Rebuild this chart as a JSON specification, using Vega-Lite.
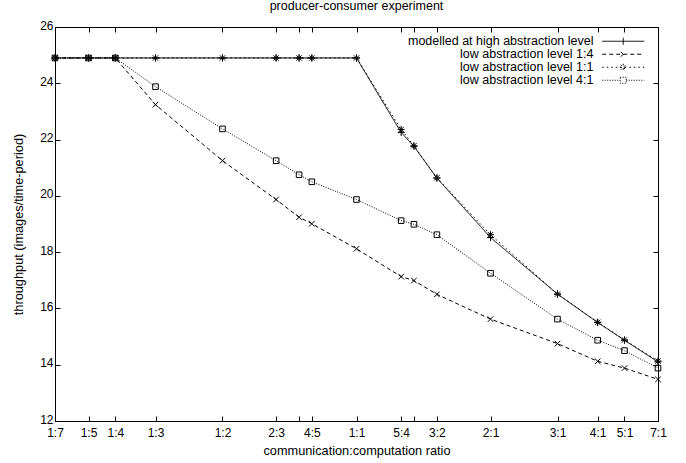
{
  "$schema": "https://vega.github.io/schema/vega-lite/v6.json",
  "width": 603,
  "height": 394,
  "autosize": "none",
  "padding": {"left": 55, "top": 27, "right": 28, "bottom": 42},
  "background": "white",
  "title": {"text": "producer-consumer experiment", "font": "Liberation Sans", "fontSize": 12.5, "fontWeight": "normal", "color": "black", "offset": 7, "anchor": "middle"},
  "config": {
    "view": {"stroke": "black", "strokeWidth": 1},
    "axis": {"domainColor": "black", "tickColor": "black", "labelColor": "black", "titleColor": "black", "labelFont": "Liberation Sans", "titleFont": "Liberation Sans", "labelFontSize": 12, "titleFontSize": 12.75, "titleFontWeight": "normal", "grid": false, "tickSize": -5, "domainWidth": 1, "tickWidth": 1},
    "legend": {"labelFont": "Liberation Sans", "labelFontSize": 12.5, "labelColor": "black", "padding": 0}
  },
  "data": {"values": [
    {"s": "modelled at high abstraction level", "f": 0.125, "y": 24.9},
    {"s": "modelled at high abstraction level", "f": 0.16666667, "y": 24.9},
    {"s": "modelled at high abstraction level", "f": 0.2, "y": 24.9},
    {"s": "modelled at high abstraction level", "f": 0.25, "y": 24.9},
    {"s": "modelled at high abstraction level", "f": 0.33333333, "y": 24.9},
    {"s": "modelled at high abstraction level", "f": 0.4, "y": 24.9},
    {"s": "modelled at high abstraction level", "f": 0.42857143, "y": 24.9},
    {"s": "modelled at high abstraction level", "f": 0.44444444, "y": 24.9},
    {"s": "modelled at high abstraction level", "f": 0.5, "y": 24.9},
    {"s": "modelled at high abstraction level", "f": 0.55555556, "y": 22.25},
    {"s": "modelled at high abstraction level", "f": 0.57142857, "y": 21.76},
    {"s": "modelled at high abstraction level", "f": 0.6, "y": 20.63},
    {"s": "modelled at high abstraction level", "f": 0.66666667, "y": 18.52},
    {"s": "modelled at high abstraction level", "f": 0.75, "y": 16.51},
    {"s": "modelled at high abstraction level", "f": 0.8, "y": 15.5},
    {"s": "modelled at high abstraction level", "f": 0.83333333, "y": 14.87},
    {"s": "modelled at high abstraction level", "f": 0.875, "y": 14.1},
    {"s": "low abstraction level 1:4", "f": 0.125, "y": 24.9},
    {"s": "low abstraction level 1:4", "f": 0.16666667, "y": 24.9},
    {"s": "low abstraction level 1:4", "f": 0.2, "y": 24.9},
    {"s": "low abstraction level 1:4", "f": 0.25, "y": 23.24},
    {"s": "low abstraction level 1:4", "f": 0.33333333, "y": 21.25},
    {"s": "low abstraction level 1:4", "f": 0.4, "y": 19.87},
    {"s": "low abstraction level 1:4", "f": 0.42857143, "y": 19.24},
    {"s": "low abstraction level 1:4", "f": 0.44444444, "y": 19.01},
    {"s": "low abstraction level 1:4", "f": 0.5, "y": 18.12},
    {"s": "low abstraction level 1:4", "f": 0.55555556, "y": 17.13},
    {"s": "low abstraction level 1:4", "f": 0.57142857, "y": 16.99},
    {"s": "low abstraction level 1:4", "f": 0.6, "y": 16.5},
    {"s": "low abstraction level 1:4", "f": 0.66666667, "y": 15.62},
    {"s": "low abstraction level 1:4", "f": 0.75, "y": 14.75},
    {"s": "low abstraction level 1:4", "f": 0.8, "y": 14.12},
    {"s": "low abstraction level 1:4", "f": 0.83333333, "y": 13.88},
    {"s": "low abstraction level 1:4", "f": 0.875, "y": 13.48},
    {"s": "low abstraction level 1:1", "f": 0.125, "y": 24.9},
    {"s": "low abstraction level 1:1", "f": 0.16666667, "y": 24.9},
    {"s": "low abstraction level 1:1", "f": 0.2, "y": 24.9},
    {"s": "low abstraction level 1:1", "f": 0.25, "y": 24.9},
    {"s": "low abstraction level 1:1", "f": 0.33333333, "y": 24.9},
    {"s": "low abstraction level 1:1", "f": 0.4, "y": 24.9},
    {"s": "low abstraction level 1:1", "f": 0.42857143, "y": 24.9},
    {"s": "low abstraction level 1:1", "f": 0.44444444, "y": 24.9},
    {"s": "low abstraction level 1:1", "f": 0.5, "y": 24.9},
    {"s": "low abstraction level 1:1", "f": 0.55555556, "y": 22.36},
    {"s": "low abstraction level 1:1", "f": 0.57142857, "y": 21.78},
    {"s": "low abstraction level 1:1", "f": 0.6, "y": 20.64},
    {"s": "low abstraction level 1:1", "f": 0.66666667, "y": 18.62},
    {"s": "low abstraction level 1:1", "f": 0.75, "y": 16.51},
    {"s": "low abstraction level 1:1", "f": 0.8, "y": 15.51},
    {"s": "low abstraction level 1:1", "f": 0.83333333, "y": 14.88},
    {"s": "low abstraction level 1:1", "f": 0.875, "y": 14.13},
    {"s": "low abstraction level 4:1", "f": 0.125, "y": 24.9},
    {"s": "low abstraction level 4:1", "f": 0.16666667, "y": 24.9},
    {"s": "low abstraction level 4:1", "f": 0.2, "y": 24.9},
    {"s": "low abstraction level 4:1", "f": 0.25, "y": 23.88},
    {"s": "low abstraction level 4:1", "f": 0.33333333, "y": 22.38},
    {"s": "low abstraction level 4:1", "f": 0.4, "y": 21.25},
    {"s": "low abstraction level 4:1", "f": 0.42857143, "y": 20.75},
    {"s": "low abstraction level 4:1", "f": 0.44444444, "y": 20.5},
    {"s": "low abstraction level 4:1", "f": 0.5, "y": 19.87},
    {"s": "low abstraction level 4:1", "f": 0.55555556, "y": 19.12},
    {"s": "low abstraction level 4:1", "f": 0.57142857, "y": 18.99},
    {"s": "low abstraction level 4:1", "f": 0.6, "y": 18.62},
    {"s": "low abstraction level 4:1", "f": 0.66666667, "y": 17.25},
    {"s": "low abstraction level 4:1", "f": 0.75, "y": 15.62},
    {"s": "low abstraction level 4:1", "f": 0.8, "y": 14.87},
    {"s": "low abstraction level 4:1", "f": 0.83333333, "y": 14.5},
    {"s": "low abstraction level 4:1", "f": 0.875, "y": 13.88}
  ]},
  "layer": [
    {
      "mark": {"type": "line", "color": "black", "strokeWidth": 1},
      "encoding": {
        "x": {"field": "f", "type": "quantitative", "scale": {"domain": [0.125, 0.875], "zero": false, "nice": false},
          "axis": {"orient": "bottom", "title": "communication:computation ratio", "titlePadding": 6, "labelPadding": 11,
            "values": [0.125, 0.16666667, 0.2, 0.25, 0.33333333, 0.4, 0.42857143, 0.44444444, 0.5, 0.55555556, 0.57142857, 0.6, 0.66666667, 0.75, 0.8, 0.83333333, 0.875],
            "labelExpr": "{'0.1250':'1:7','0.1667':'1:5','0.2000':'1:4','0.2500':'1:3','0.3333':'1:2','0.4000':'2:3','0.4286':'','0.4444':'4:5','0.5000':'1:1','0.5556':'5:4','0.5714':'','0.6000':'3:2','0.6667':'2:1','0.7500':'3:1','0.8000':'4:1','0.8333':'5:1','0.8750':'7:1'}[format(datum.value, '.4f')]",
            "labelOverlap": false, "labelFlush": false}},
        "y": {"field": "y", "type": "quantitative", "scale": {"domain": [12, 26], "zero": false, "nice": false},
          "axis": {"orient": "left", "title": "throughput (images/time-period)", "values": [12, 14, 16, 18, 20, 22, 24, 26], "labelPadding": 7, "labelOffset": -2, "titlePadding": 14, "labelOverlap": false, "labelFlush": false}},
        "strokeDash": {"field": "s", "type": "nominal",
          "scale": {"domain": ["modelled at high abstraction level", "low abstraction level 1:4", "low abstraction level 1:1", "low abstraction level 4:1"], "range": [[1, 0], [4, 3], [1.5, 3], [1, 1.5]]},
          "legend": {"title": null, "orient": "none", "legendX": 562, "legendY": 8, "labelAlign": "right", "labelOffset": -36, "labelLimit": 400, "rowPadding": -3, "symbolSize": 100,
            "encoding": {"symbols": {
              "shape": {"value": {"expr": "datum.value === 'modelled at high abstraction level' ? 'M-4.2,0H4.2M0,-0.7V0.7' : datum.value === 'low abstraction level 1:4' ? 'M-4.2,0H4.2M-0.5,-0.5L0.5,0.5M-0.5,0.5L0.5,-0.5' : datum.value === 'low abstraction level 1:1' ? 'M-4.2,0H4.2M-0.7,0H0.7M0,-0.7V0.7M-0.5,-0.5L0.5,0.5M-0.5,0.5L0.5,-0.5' : 'M-4.2,0H-0.6M0.6,0H4.2M-0.6,-0.6H0.6V0.6H-0.6Z'"}},
              "size": {"value": 100}, "stroke": {"value": "black"}, "strokeWidth": {"value": 1}, "fill": {"value": "transparent"}, "opacity": {"value": 1}}}}}
      }
    },
    {
      "transform": [{"filter": "datum.s === 'modelled at high abstraction level'"}],
      "mark": {"type": "point", "filled": false, "color": "black", "strokeWidth": 1, "size": 49, "opacity": 1, "shape": "M-1,0H1M0,-1V1"},
      "encoding": {
        "x": {"field": "f", "type": "quantitative",
          "axis": {"orient": "top", "title": null, "labels": false,
            "values": [0.125, 0.16666667, 0.2, 0.25, 0.33333333, 0.4, 0.42857143, 0.44444444, 0.5, 0.55555556, 0.57142857, 0.6, 0.66666667, 0.75, 0.8, 0.83333333, 0.875]}},
        "y": {"field": "y", "type": "quantitative",
          "axis": {"orient": "right", "title": null, "labels": false, "values": [12, 14, 16, 18, 20, 22, 24, 26]}}
      }
    },
    {
      "transform": [{"filter": "datum.s === 'low abstraction level 1:4'"}],
      "mark": {"type": "point", "filled": false, "color": "black", "strokeWidth": 1, "size": 49, "opacity": 1, "shape": "M-0.8,-0.8L0.8,0.8M-0.8,0.8L0.8,-0.8"},
      "encoding": {
        "x": {"field": "f", "type": "quantitative", "axis": null},
        "y": {"field": "y", "type": "quantitative", "axis": null}
      }
    },
    {
      "transform": [{"filter": "datum.s === 'low abstraction level 1:1'"}],
      "mark": {"type": "point", "filled": false, "color": "black", "strokeWidth": 1, "size": 49, "opacity": 1, "shape": "M-1,0H1M0,-1V1M-0.75,-0.75L0.75,0.75M-0.75,0.75L0.75,-0.75"},
      "encoding": {
        "x": {"field": "f", "type": "quantitative", "axis": null},
        "y": {"field": "y", "type": "quantitative", "axis": null}
      }
    },
    {
      "transform": [{"filter": "datum.s === 'low abstraction level 4:1'"}],
      "mark": {"type": "point", "filled": false, "color": "black", "strokeWidth": 1, "size": 49, "opacity": 1, "shape": "M-0.8,-0.8H0.8V0.8H-0.8Z"},
      "encoding": {
        "x": {"field": "f", "type": "quantitative", "axis": null},
        "y": {"field": "y", "type": "quantitative", "axis": null}
      }
    }
  ],
  "resolve": {"axis": {"x": "independent", "y": "independent"}}
}
